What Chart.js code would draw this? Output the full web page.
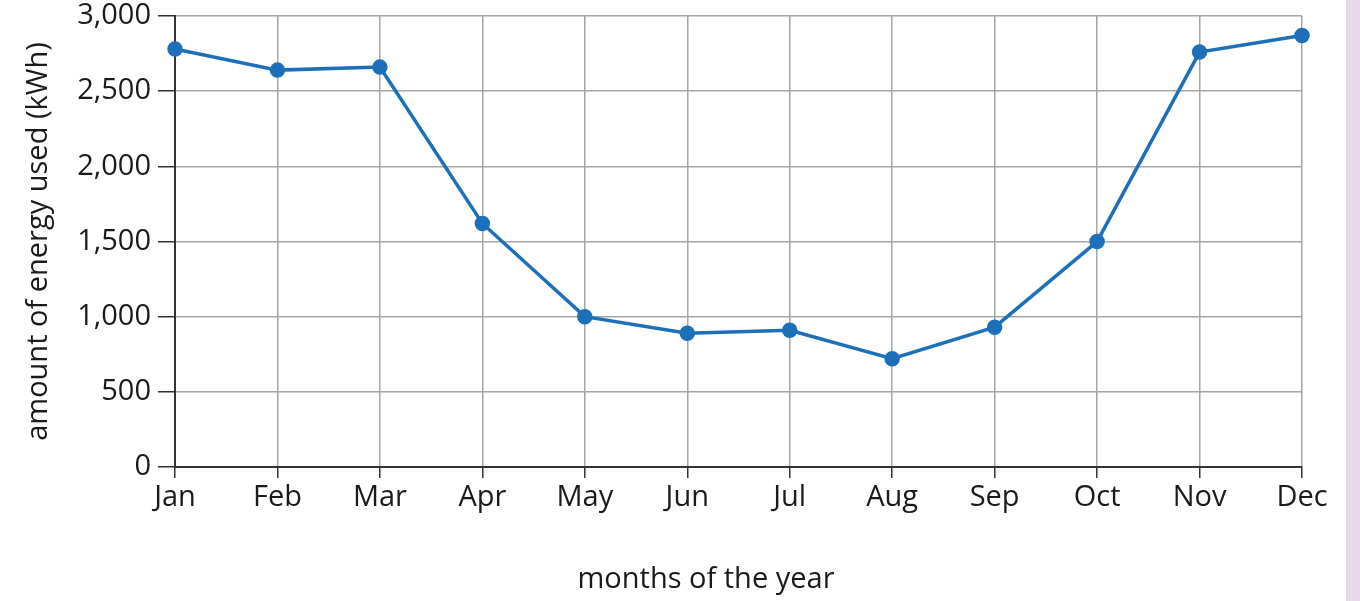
<!DOCTYPE html>
<html>
<head>
<meta charset="utf-8">
<script src="https://cdn.jsdelivr.net/npm/chart.js@4/dist/chart.umd.min.js"></script>
<style>
  html, body { margin: 0; padding: 0; background: #ffffff; }
  #wrap { position: relative; width: 1360px; height: 601px; }
  #strip { position: absolute; left: 1346px; top: 0; width: 14px; height: 601px; background: #e7d9eb; }
  canvas { position: absolute; left: 0; top: 0; }
</style>
</head>
<body>
<div id="wrap">
  <canvas id="c" width="1346" height="601"></canvas>
  <div id="strip"></div>
</div>
<script>
const months = ['Jan','Feb','Mar','Apr','May','Jun','Jul','Aug','Sep','Oct','Nov','Dec'];
const energyUsed = [2780, 2640, 2660, 1620, 1000, 890, 910, 720, 930, 1500, 2760, 2870];
const yTicks = [0, 500, 1000, 1500, 2000, 2500, 3000];
const xTitle = 'months of the year';
const yTitle = 'amount of energy used (kWh)';

const FONT = "'Open Sans', 'DejaVu Sans', sans-serif";
const TEXT = '#1a1a1a';
const FS = 29;

const xTitlePlugin = {
  id: 'xTitle',
  afterDraw(chart) {
    const ctx = chart.ctx;
    ctx.save();
    ctx.font = FS + 'px ' + FONT;
    ctx.fillStyle = TEXT;
    ctx.textAlign = 'center';
    ctx.textBaseline = 'middle';
    ctx.fillText(xTitle, 706, 580);
    ctx.restore();
  }
};

new Chart(document.getElementById('c'), {
  type: 'line',
  data: {
    labels: months,
    datasets: [{
      data: energyUsed,
      borderColor: '#1c6fb9',
      backgroundColor: '#1c6fb9',
      borderWidth: 3.5,
      pointRadius: 6,
      pointHoverRadius: 6,
      tension: 0,
      clip: false
    }]
  },
  options: {
    responsive: false,
    animation: false,
    devicePixelRatio: 1,
    layout: { padding: { top: 0, right: 44, left: 0, bottom: 0 } },
    plugins: { legend: { display: false }, tooltip: { enabled: false } },
    scales: {
      x: {
        offset: false,
        grid: { color: '#a6a6a6', lineWidth: 1.5, tickLength: 11, tickColor: '#333333', drawTicks: true },
        border: { color: '#333333', width: 2 },
        ticks: { color: TEXT, font: { family: FONT, size: FS }, padding: 2, maxRotation: 0, autoSkip: false },
        afterFit(scale) { scale.height = 134; }
      },
      y: {
        min: 0, max: 3000,
        afterBuildTicks(scale) { scale.ticks = yTicks.map(v => ({ value: v })); },
        grid: { color: '#a6a6a6', lineWidth: 1.5, tickLength: 17, tickColor: '#333333' },
        border: { color: '#333333', width: 2 },
        ticks: {
          color: TEXT, font: { family: FONT, size: FS }, padding: 7,
          callback: (v) => v.toLocaleString('en-US')
        },
        title: { display: true, text: yTitle, color: TEXT, font: { family: FONT, size: FS }, padding: { top: 21, bottom: 0 } },
        afterFit(scale) { scale.width = 175; scale.paddingTop = 16; scale.paddingBottom = 0; }
      }
    }
  },
  plugins: [xTitlePlugin]
});
</script>
</body>
</html>
